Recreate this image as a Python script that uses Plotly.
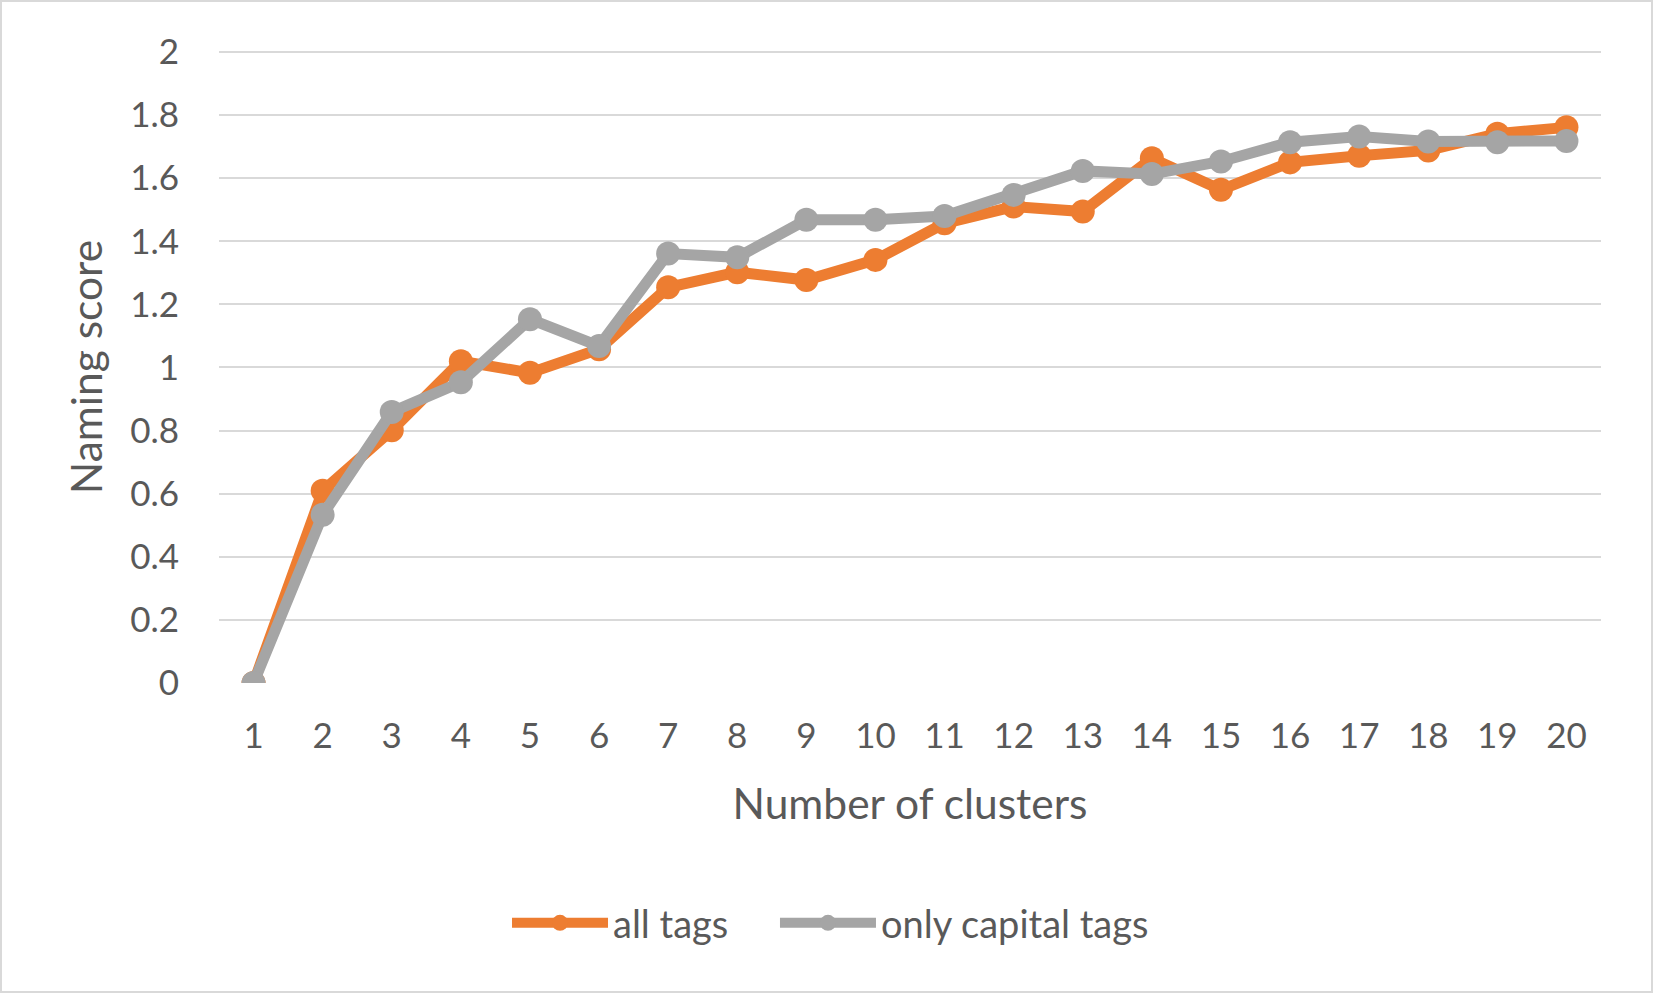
import plotly.graph_objects as go

clusters = list(range(1, 21))
all_tags = [0, 0.609, 0.801, 1.020, 0.983, 1.058, 1.254, 1.302, 1.277, 1.341,
            1.457, 1.510, 1.494, 1.663, 1.563, 1.650, 1.671, 1.688, 1.741, 1.761]
capital_tags = [0, 0.533, 0.859, 0.953, 1.153, 1.068, 1.361, 1.349, 1.468, 1.468,
                1.480, 1.547, 1.623, 1.613, 1.653, 1.714, 1.732, 1.716, 1.714, 1.718]
y_ticks = [0, 0.2, 0.4, 0.6, 0.8, 1, 1.2, 1.4, 1.6, 1.8, 2]
y_tick_labels = ["0", "0.2", "0.4", "0.6", "0.8", "1", "1.2", "1.4", "1.6", "1.8", "2"]

W, H = 1653, 993
ML, MR, MT, MB = 219, 52, 51, 310
PW, PH = W - ML - MR, H - MT - MB

font_family = "Lato, 'Open Sans', sans-serif"
text_color = "#595959"
grid_color = "#D9D9D9"

fig = go.Figure()
fig.add_trace(go.Scatter(
    x=clusters, y=all_tags, name="all tags", mode="lines+markers",
    line=dict(color="#ED7D31", width=11),
    marker=dict(color="#ED7D31", size=24),
    legend="legend",
))
fig.add_trace(go.Scatter(
    x=clusters, y=capital_tags, name="only capital tags", mode="lines+markers",
    line=dict(color="#A5A5A5", width=11),
    marker=dict(color="#A5A5A5", size=24),
    legend="legend2",
))

legend_common = dict(orientation="h", xanchor="left", y=-0.38, yanchor="middle",
                     font=dict(size=38, color=text_color), itemwidth=96,
                     bgcolor="rgba(0,0,0,0)")

fig.update_layout(
    width=W, height=H,
    margin=dict(l=ML, r=MR, t=MT, b=MB, autoexpand=False),
    paper_bgcolor="white", plot_bgcolor="white",
    font=dict(family=font_family, color=text_color, size=35),
    showlegend=True,
    legend=dict(x=0.2084, **legend_common),
    legend2=dict(x=0.4023, **legend_common),
    shapes=[
        dict(type="rect", xref="paper", yref="paper",
             x0=-(ML - 1) / PW, x1=1 + (MR - 1) / PW,
             y0=-(MB - 1) / PH, y1=1 + (MT - 1) / PH,
             line=dict(color=grid_color, width=2), fillcolor="rgba(0,0,0,0)",
             layer="below"),
        dict(type="line", xref="paper", yref="y", x0=0, x1=1, y0=y_ticks[-1], y1=y_ticks[-1],
             line=dict(color=grid_color, width=2), layer="below"),
    ],
)

fig.update_xaxes(
    range=[0.5, 20.5], tickmode="array", tickvals=clusters,
    ticktext=[str(c) for c in clusters],
    showgrid=False, zeroline=False, showline=False,
    ticks="", ticklabelstandoff=29,
    tickfont=dict(size=35, color=text_color),
    title=dict(text="Number of clusters", font=dict(size=42.5, color=text_color), standoff=35),
)
fig.update_yaxes(
    range=[0, 2.003], tickmode="array", tickvals=y_ticks, ticktext=y_tick_labels,
    showgrid=True, gridcolor=grid_color, gridwidth=2,
    zeroline=False, showline=False, ticks="", ticklabelstandoff=39,
    tickfont=dict(size=35, color=text_color),
    title=dict(text="Naming score", font=dict(size=42.5, color=text_color), standoff=14),
)

fig.write_html("out.html", config={"displayModeBar": False},
               post_script="document.body.style.margin='0px';")
